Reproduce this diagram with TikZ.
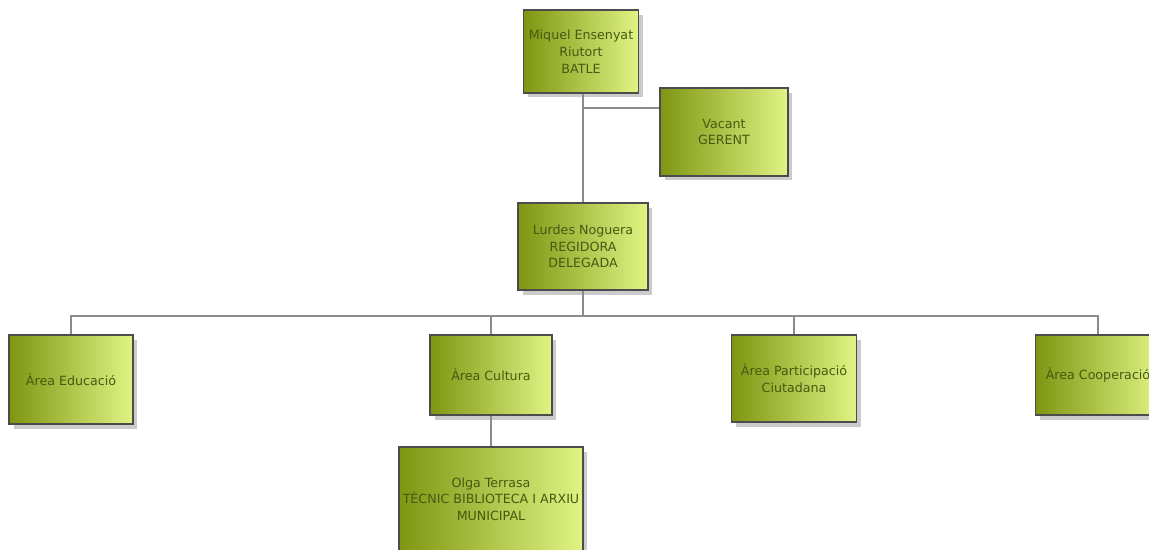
\documentclass[tikz,border=0pt]{standalone}
\usepackage{fontspec}
\setsansfont{DejaVu Sans}
\usetikzlibrary{shadows,backgrounds}
\definecolor{olivedark}{RGB}{126,150,18}
\definecolor{olivelight}{RGB}{224,244,132}
\definecolor{olivetext}{RGB}{72,88,18}
\definecolor{linkgray}{RGB}{140,140,140}
\tikzset{
  orgbox/.style={draw=black!70,line width=0.6pt,left color=olivedark,right color=olivelight,
    text=olivetext,font=\sffamily\fontsize{7.2}{9.5}\selectfont,align=center,inner sep=1pt,
    drop shadow={shadow xshift=0.9mm,shadow yshift=-0.9mm,fill=black!45,opacity=0.45}},
  link/.style={draw=linkgray,line width=1.2pt}
}

\begin{document}
\begin{tikzpicture}[x=0.02cm,y=-0.02cm]
    \clip (0,0) rectangle (1149,549);
    % top of the chart
    \node[orgbox,minimum width=2.3cm,minimum height=1.66cm] (batle) at (581,51.5) {Miquel Ensenyat\\Riutort\\BATLE};
    \node[orgbox,minimum width=2.56cm,minimum height=1.76cm] (gerent) at (724,132) {Vacant\\GERENT};
    \node[orgbox,minimum width=2.6cm,minimum height=1.74cm] (lurdes) at (583,246.5) {Lurdes Noguera\\REGIDORA\\DELEGADA};
    % areas
    \foreach \n/\x/\y/\w/\h/\t in {
      edu/71/379.5/2.48/1.78/Àrea Educació,
      cul/491/375/2.44/1.6/Àrea Cultura,
      par/794/378.5/2.5/1.74/Àrea Participació\\Ciutadana,
      coo/1098/375/2.5/1.6/Àrea Cooperació}
    {
      \node[orgbox,minimum width=\w cm,minimum height=\h cm] (\n) at (\x,\y) {\t};
    }
    \node[orgbox,minimum width=3.68cm,minimum height=2.08cm] (olga) at (491,499) {Olga Terrasa\\TÈCNIC BIBLIOTECA I ARXIU\\MUNICIPAL};
    % connectors
    \coordinate (gj) at (583,108);
    \coordinate (bus) at (583,316);
    \begin{scope}[on background layer]
      \fill[white] (0,0) rectangle (1149,549);
      \draw[link] (batle.south -| lurdes.north) -- (lurdes.north);
      \draw[link] (gj) -- (gj -| gerent.west);
      \foreach \n in {edu,cul,par,coo}
        \draw[link] (lurdes.south) -- (bus) -| (\n.north);
      \draw[link] (cul.south) -- (olga.north);
    \end{scope}
\end{tikzpicture}
\end{document}
